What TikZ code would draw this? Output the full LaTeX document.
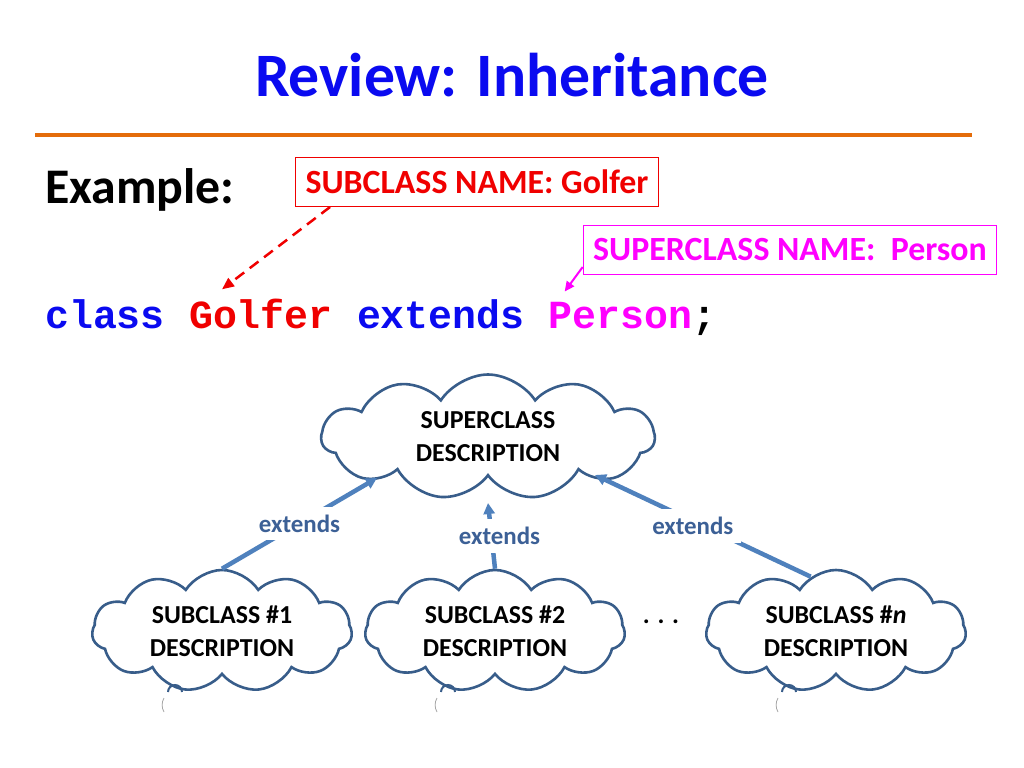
\documentclass[tikz,border=0pt]{standalone}
\usepackage{fontspec}
\setmainfont{Carlito}
\setmonofont{Liberation Mono}
\usetikzlibrary{positioning,shapes.symbols,arrows.meta}

\definecolor{titleblue}{RGB}{10,10,240}
\definecolor{rulecol}{RGB}{228,108,10}
\definecolor{arrowcol}{RGB}{79,129,189}
\definecolor{cloudcol}{RGB}{56,93,138}
\definecolor{extcol}{RGB}{60,96,150}
\definecolor{subred}{RGB}{240,0,0}
\definecolor{supmag}{RGB}{255,0,255}

\tikzset{
	cloudbox/.style={cloud, cloud puffs=11, cloud puff arc=115, cloud ignores aspect, draw=cloudcol, line width=2.6bp, fill=white, align=center, font=\fontsize{26}{33}\selectfont\bfseries},
	extarrow/.style={draw=arrowcol, line width=4.5bp, -{Triangle[length=11bp,width=11bp]}},
	extlabel/.style={fill=white, text=extcol, font=\fontsize{25}{30}\selectfont\bfseries, inner sep=8bp},
	namebox/.style={draw, line width=1bp, inner xsep=10bp, inner ysep=4bp, minimum height=49bp, font=\fontsize{34}{40}\selectfont\bfseries},
	codeword/.style={inner sep=0pt, font=\fontsize{40}{48}\selectfont\ttfamily\bfseries},
}

\begin{document}
\begin{tikzpicture}[x=1bp,y=-1bp]
	\useasboundingbox (0,0) rectangle (1024,768);
	\fill[white] (0,0) rectangle (1024,768);

	\node[font=\fontsize{62}{70}\selectfont\bfseries, text=titleblue, anchor=base] (title) at (512,97) {Review: Inheritance};
	\draw[rulecol, line width=4bp] (35,135) -- (972,135);

	\node[font=\fontsize{50}{60}\selectfont\bfseries, anchor=base west, inner sep=0pt] (example) at (45,203) {Example:};
	\node[namebox, draw=subred, text=subred] (subname) at (477,182) {SUBCLASS NAME: Golfer};
	\node[namebox, draw=supmag, text=supmag] (supname) at (790,250) {SUPERCLASS NAME: \ Person};

	% code line, one node per word
	\node[codeword, text=titleblue, anchor=base west] (kwclass) at (45,328) {class};
	\node[codeword, text=subred, base right=24bp of kwclass] (golfer) {Golfer};
	\node[codeword, text=titleblue, base right=24bp of golfer] (kwextends) {extends};
	\node[codeword, text=supmag, base right=24bp of kwextends] (person) {Person};
	\node[codeword, base right=0pt of person] (semi) {;};

	\draw[subred, line width=2.5bp, dash pattern=on 11bp off 7bp, -{Triangle[length=12bp,width=10bp]}] ([xshift=35bp]subname.south west) -- ([xshift=33bp,yshift=9bp]golfer.north west);
	\draw[supmag, line width=2bp, -{Triangle[length=10bp,width=9bp]}] ([yshift=8bp]supname.south west) -- ([xshift=16bp,yshift=10bp]person.north west);

	% clouds
	\node[cloudbox, minimum width=333bp, minimum height=125bp] (super) at (488,437) {SUPERCLASS\\DESCRIPTION};
	\foreach \n/\x/\t in {sub1/222/{SUBCLASS \#1}, sub2/495/{SUBCLASS \#2}, subn/836/{SUBCLASS \#\textit{n}}}{
		\node[cloudbox, minimum width=260bp, minimum height=122bp] (\n) at (\x,631) {\t\\DESCRIPTION};
		\draw[cloudcol, line width=2bp] ({\x-54},692) arc(180:360:7);
		\draw[gray!70, line width=0.8bp] ({\x-58},712) arc(150:210:14);
	}
	\node[font=\fontsize{26}{33}\selectfont\bfseries] (dots) at (661,622) {. . .};

	\draw[extarrow] (sub1.north) -- node[extlabel] {extends} ([xshift=-111bp,yshift=-41bp]super.center);
	\draw[extarrow] (sub2.north) -- node[extlabel, xshift=8bp] {extends} ([yshift=-66bp]super.center);
	\draw[extarrow] (subn.115) -- node[extlabel, xshift=-10bp] {extends} ([xshift=107bp,yshift=-38bp]super.center);
\end{tikzpicture}
\end{document}
